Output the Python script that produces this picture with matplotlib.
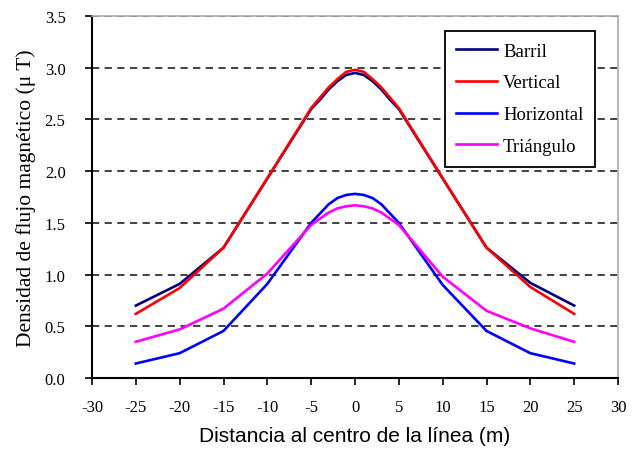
import matplotlib
matplotlib.use("Agg")
import matplotlib.pyplot as plt

distancia = [-25, -20, -15, -10, -5, -4, -3, -2, -1, 0, 1, 2, 3, 4, 5, 10, 15, 20, 25]
barril = [0.70, 0.91, 1.26, 1.93, 2.60, 2.69, 2.79, 2.87, 2.93, 2.95, 2.93, 2.87, 2.79, 2.69, 2.60, 1.93, 1.26, 0.92, 0.70]
vertical = [0.62, 0.87, 1.26, 1.93, 2.61, 2.71, 2.81, 2.89, 2.96, 2.98, 2.96, 2.89, 2.81, 2.71, 2.61, 1.93, 1.26, 0.88, 0.62]
horizontal = [0.14, 0.24, 0.455, 0.91, 1.50, 1.59, 1.68, 1.74, 1.77, 1.78, 1.77, 1.74, 1.68, 1.59, 1.50, 0.90, 0.455, 0.24, 0.14]
triangulo = [0.35, 0.47, 0.67, 1.01, 1.48, 1.54, 1.60, 1.64, 1.66, 1.67, 1.66, 1.64, 1.60, 1.54, 1.48, 0.98, 0.65, 0.48, 0.35]

series_names = ["Barril", "Vertical", "Horizontal", "Triángulo"]
series_colors = ["#000080", "#FF0000", "#0000FF", "#FF00FF"]

xticks = [-30, -25, -20, -15, -10, -5, 0, 5, 10, 15, 20, 25, 30]
yticks = [0.0, 0.5, 1.0, 1.5, 2.0, 2.5, 3.0, 3.5]

serif = "Liberation Serif"
sans = "Liberation Sans"

fig = plt.figure(figsize=(6.39, 4.56), dpi=100)
ax = fig.add_axes([92/639, 1-379/456, (618-92)/639, (379-17)/456])

for name, vals, col in zip(series_names, [barril, vertical, horizontal, triangulo], series_colors):
    ax.plot(distancia, vals, color=col, lw=1.9, label=name, solid_joinstyle="round")

ax.set_xlim(-30, 30)
ax.set_ylim(0, 3.5)
ax.set_xticks(xticks)
ax.set_yticks(yticks)
ax.set_xticklabels([str(t) for t in xticks], family=serif, fontsize=12)
ax.set_yticklabels([f"{t:.1f}" for t in yticks], family=serif, fontsize=12)
ax.tick_params(axis="both", direction="out", length=5, width=1.2, color="black")
ax.tick_params(axis="x", pad=10)
ax.tick_params(axis="y", pad=14)

for y in yticks[1:]:
    ax.axhline(y, color="#333333", lw=1.3, ls=(0, (4, 3)), zorder=0.5)

for s in ["left", "bottom"]:
    ax.spines[s].set_color("black")
    ax.spines[s].set_linewidth(1.5)
for s in ["right", "top"]:
    ax.spines[s].set_color("#aaaaaa")
    ax.spines[s].set_linewidth(1.2)

ax.set_xlabel("Distancia al centro de la línea (m)", family=sans, fontsize=15, labelpad=8)
ax.set_ylabel("Densidad de flujo magnético (μ T)", family=serif, fontsize=15.5, labelpad=6)

leg = ax.legend(loc="upper right", bbox_to_anchor=(595/639, 1-32/456), bbox_transform=fig.transFigure,
                prop={"family": serif, "size": 13.5}, frameon=True, fancybox=False,
                handlelength=2.2, handletextpad=0.3, labelspacing=0.78, borderpad=0.62,
                borderaxespad=0)
leg.get_frame().set_edgecolor("black")
leg.get_frame().set_linewidth(1.3)
leg.get_frame().set_alpha(1)

fig.savefig("out.png", dpi=100)
